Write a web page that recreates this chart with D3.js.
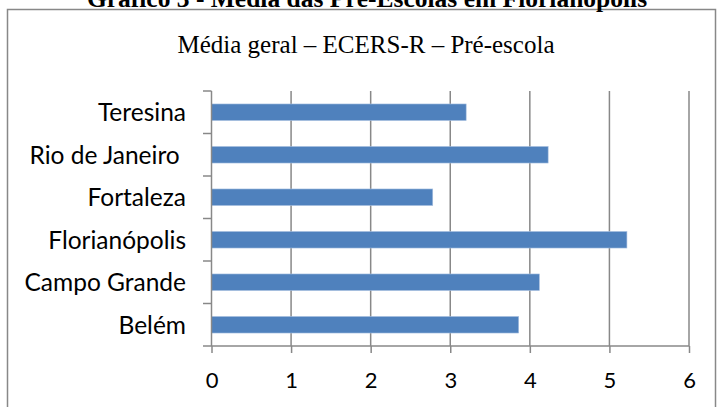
<!DOCTYPE html>
<html>
<head>
<meta charset="utf-8">
<script src="https://cdn.jsdelivr.net/npm/d3@7/dist/d3.min.js"></script>
<style>
  html, body { margin: 0; padding: 0; background: #fff; }
  svg { display: block; }
</style>
</head>
<body>
<svg id="chart" width="717" height="407"></svg>
<script>
// ---- data ----
const heading = "Gráfico 3 - Média das Pré-Escolas em Florianópolis";
const chartTitle = "Média geral – ECERS-R – Pré-escola";
const categories = ["Teresina", "Rio de Janeiro ", "Fortaleza", "Florianópolis", "Campo Grande", "Belém"];
const values = [3.20, 4.23, 2.78, 5.22, 4.12, 3.86];
const xTicks = [0, 1, 2, 3, 4, 5, 6];

// ---- layout ----
const W = 717, H = 407;
const plot = { left: 211.5, right: 689, top: 91, bottom: 346 };
const gridColor = "#888888";
const barColor = "#4F81BD";
const labelFont = "Lato, 'Open Sans', sans-serif";

const svg = d3.select("#chart");

// outer frame
svg.append("rect")
  .attr("x", 7.5).attr("y", 9.5)
  .attr("width", 708).attr("height", 420)
  .attr("fill", "#fff")
  .attr("stroke", gridColor).attr("stroke-width", 1.5);

// heading (partially cut off at the top in the original)
svg.append("text")
  .attr("x", 367).attr("y", 7)
  .attr("text-anchor", "middle")
  .attr("font-family", "'Liberation Serif', 'Times New Roman', serif")
  .attr("font-weight", "bold")
  .attr("font-size", 25.5)
  .text(heading);

// chart title
svg.append("text")
  .attr("x", 366).attr("y", 53)
  .attr("text-anchor", "middle")
  .attr("font-family", "'Liberation Serif', 'Times New Roman', serif")
  .attr("font-size", 25)
  .attr("fill", "#000")
  .text(chartTitle);

const x = d3.scaleLinear().domain([0, 6]).range([plot.left, plot.right]);
const y = d3.scaleBand().domain(categories)
  .range([plot.top, plot.bottom])
  .paddingInner(0.61).paddingOuter(0.305);

const yBoundary = d3.scaleBand().domain(categories).range([plot.top, plot.bottom]);

// vertical gridlines
svg.append("g").selectAll("line")
  .data(xTicks.slice(1))
  .join("line")
  .attr("x1", d => x(d)).attr("x2", d => x(d))
  .attr("y1", plot.top).attr("y2", plot.bottom)
  .attr("stroke", gridColor).attr("stroke-width", 1.5);

// bars
svg.append("g").selectAll("rect")
  .data(categories)
  .join("rect")
  .attr("x", x(0))
  .attr("y", d => y(d))
  .attr("width", (d, i) => x(values[i]) - x(0))
  .attr("height", y.bandwidth())
  .attr("fill", barColor)
  .attr("stroke", "#a9c0e0").attr("stroke-width", 0.6);

// x axis (bottom)
const xAxis = d3.axisBottom(x).tickValues(xTicks).tickSize(7).tickFormat(d3.format("d"));
const gx = svg.append("g").attr("transform", `translate(0,${plot.bottom})`).call(xAxis);
gx.select(".domain").remove();
gx.append("line")
  .attr("x1", plot.left - 8.5).attr("x2", plot.right)
  .attr("y1", 0).attr("y2", 0)
  .attr("stroke", gridColor).attr("stroke-width", 1.5);
gx.selectAll(".tick line").attr("stroke", gridColor).attr("stroke-width", 1.5);
gx.selectAll(".tick text")
  .attr("y", 0).attr("dy", 0)
  .attr("transform", "translate(0,42)")
  .attr("font-family", labelFont)
  .attr("font-size", 22)
  .attr("fill", "#000");

// y axis (left) with ticks at category boundaries
svg.append("line")
  .attr("x1", plot.left).attr("x2", plot.left)
  .attr("y1", plot.top).attr("y2", plot.bottom)
  .attr("stroke", gridColor).attr("stroke-width", 1.5);
svg.append("g").selectAll("line")
  .data(categories)
  .join("line")
  .attr("x1", plot.left - 8.5).attr("x2", plot.left)
  .attr("y1", d => yBoundary(d)).attr("y2", d => yBoundary(d))
  .attr("stroke", gridColor).attr("stroke-width", 1.5);

const gy = svg.append("g");
gy.selectAll("text")
  .data(categories)
  .join("text")
  .attr("x", 186)
  .attr("y", d => yBoundary(d) + yBoundary.bandwidth() / 2)
  .attr("dy", "0.36em")
  .attr("text-anchor", "end")
  .attr("font-family", labelFont)
  .attr("font-size", 24.5)
  .attr("fill", "#000")
  .style("white-space", "pre")
  .text(d => d);
</script>
</body>
</html>
